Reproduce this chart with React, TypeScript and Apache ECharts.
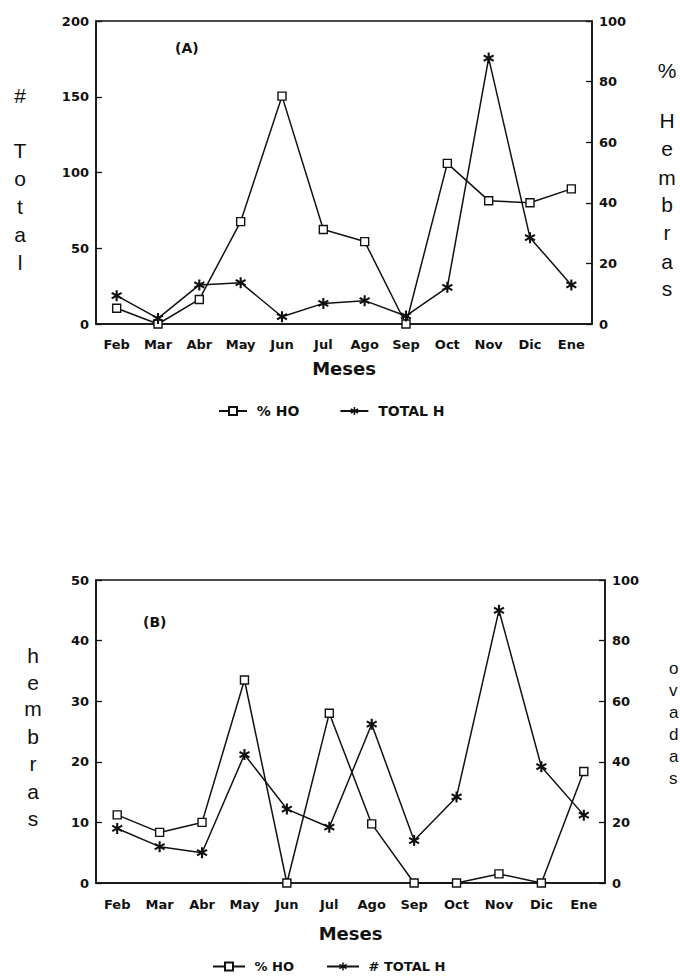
import React, { useEffect, useRef } from "react";
import * as echarts from "echarts";

const months = ["Feb", "Mar", "Abr", "May", "Jun", "Jul", "Ago", "Sep", "Oct", "Nov", "Dic", "Ene"];
// Chart A
const pctHoA = [5.2, 0, 8.1, 33.8, 75.2, 31.2, 27.2, 0, 53, 40.7, 40, 44.6];
const totalHA = [18.7, 3.7, 25.8, 27.3, 4.8, 13.6, 15.4, 5.3, 24.2, 175.5, 57, 25.8];
// Chart B
const pctHoB = [22.5, 16.7, 20, 67, 0, 56, 19.5, 0, 0, 3, 0, 36.8];
const totalHB = [9, 6, 5, 21.2, 12.2, 9.2, 26.2, 7, 14.2, 45, 19.2, 11.2];

const FONT = "'Liberation Sans', Arial, Helvetica, sans-serif";
const WIDE = "'DejaVu Sans', Verdana, sans-serif";
const INK = "#111";
const STAR =
  "path://M-1.1,-6L1.1,-6L1.1,6L-1.1,6Z" +
  "M5.746,2.047L4.646,3.953L-5.746,-2.047L-4.646,-3.953Z" +
  "M-4.646,3.953L-5.746,2.047L4.646,-3.953L5.746,-2.047Z";

function letters(chars: string[], ys: number[], x: number, align: string, size = 21) {
  return chars.map((c, i) => ({
    type: "text",
    x,
    y: ys[i],
    silent: true,
    style: {
      text: c,
      font: `${size}px ${FONT}`,
      fill: INK,
      align,
      verticalAlign: "middle",
      textAlign: align,
      textVerticalAlign: "middle",
    },
  }));
}

export default function App() {
  const ref = useRef<HTMLDivElement>(null);
  useEffect(() => {
    if (!ref.current) return;
    const chart = echarts.init(ref.current, null, { renderer: "svg" });
    const axisLabel = { color: INK, fontFamily: WIDE, fontWeight: "bold", fontSize: 13 };
    const xMain = (gridIndex: number, gap: number, margin: number) => ({
      type: "category",
      gridIndex,
      data: months,
      position: "bottom",
      boundaryGap: true,
      axisLine: { lineStyle: { color: INK, width: 1.5 } },
      axisTick: { alignWithLabel: true, length: 6, lineStyle: { color: INK, width: 1.3 } },
      axisLabel: { ...axisLabel, interval: 0, margin },
      name: "Meses",
      nameLocation: "middle",
      nameGap: gap,
      nameTextStyle: { color: INK, fontFamily: WIDE, fontWeight: "bold", fontSize: 18 },
    });
    const xInner = (gridIndex: number) => ({
      type: "category",
      gridIndex,
      data: months,
      position: "bottom",
      offset: 0,
      boundaryGap: true,
      axisLine: { show: false },
      axisTick: { inside: true, alignWithLabel: true, length: 6, lineStyle: { color: INK, width: 1.3 } },
      axisLabel: { show: false },
    });
    const yAxis = (gridIndex: number, position: string, max: number, interval: number) => ({
      type: "value",
      gridIndex,
      position,
      min: 0,
      max,
      interval,
      splitLine: { show: false },
      axisLine: { show: true, lineStyle: { color: INK, width: 1.5 } },
      axisTick: { show: true, inside: true, length: 6, lineStyle: { color: INK, width: 1.3 } },
      axisLabel: { ...axisLabel, margin: 7 },
    });
    const sq = (name: string, data: number[], xi: number, yi: number) => ({
      type: "line",
      name,
      data,
      xAxisIndex: xi,
      yAxisIndex: yi,
      symbol: "rect",
      symbolSize: 8,
      showAllSymbol: true,
      clip: false,
      lineStyle: { color: INK, width: 1.5 },
      itemStyle: { color: "#fff", borderColor: INK, borderWidth: 1.4 },
      z: 3,
    });
    const st = (name: string, data: number[], xi: number, yi: number) => ({
      type: "line",
      name,
      data,
      xAxisIndex: xi,
      yAxisIndex: yi,
      symbol: STAR,
      symbolSize: 11,
      showAllSymbol: true,
      clip: false,
      lineStyle: { color: INK, width: 1.5 },
      itemStyle: { color: INK },
      z: 4,
    });
    const legendText = { color: INK, fontFamily: WIDE, fontWeight: "bold", fontSize: 14 };

    chart.setOption({
      animation: false,
      backgroundColor: "#fff",
      grid: [
        { left: 96, top: 21, width: 496, height: 303, show: true, borderColor: INK, borderWidth: 1.5, backgroundColor: "transparent" },
        { left: 96, top: 580, width: 509, height: 303, show: true, borderColor: INK, borderWidth: 1.5, backgroundColor: "transparent" },
      ],
      xAxis: [xMain(0, 35, 14), xInner(0), xMain(1, 41, 15), xInner(1)],
      yAxis: [
        yAxis(0, "left", 200, 50),
        yAxis(0, "right", 100, 20),
        yAxis(1, "left", 50, 10),
        yAxis(1, "right", 100, 20),
      ],
      legend: [
        {
          data: ["% HO", "TOTAL H"],
          left: 213,
          top: 399,
          itemWidth: 28,
          itemHeight: 10,
          itemGap: 40,
          formatter: (n: string) => " " + n,
          textStyle: legendText,
          selectedMode: false,
        },
        {
          data: ["% HO", "# TOTAL H"],
          left: 210,
          top: 958,
          padding: 2,
          itemWidth: 32,
          itemHeight: 10,
          itemGap: 32,
          formatter: (n: string) => " " + n,
          textStyle: { ...legendText, fontSize: 13 },
          selectedMode: false,
        },
      ],
      series: [
        sq("% HO", pctHoA, 0, 1),
        st("TOTAL H", totalHA, 0, 0),
        sq("% HO", pctHoB, 2, 3),
        st("# TOTAL H", totalHB, 2, 2),
      ],
      graphic: [
        {
          type: "text",
          x: 175,
          y: 48,
          style: { text: "(A)", font: `bold 14px ${WIDE}`, fill: INK, verticalAlign: "middle", textVerticalAlign: "middle" },
        },
        {
          type: "text",
          x: 143,
          y: 622,
          style: { text: "(B)", font: `bold 14px ${WIDE}`, fill: INK, verticalAlign: "middle", textVerticalAlign: "middle" },
        },
        ...letters(["#", "T", "o", "t", "a", "l"], [95, 150, 178, 206, 234, 262], 20, "center"),
        ...letters(["%", "H", "e", "m", "b", "r", "a", "s"], [70, 120, 148, 177, 204, 232, 261, 288], 667, "center"),
        ...letters(["h", "e", "m", "b", "r", "a", "s"], [655, 682, 708, 736, 763, 791, 818], 33, "center"),
        ...letters(["o", "v", "a", "d", "a", "s"], [668, 690, 712, 734, 756, 778], 669, "left", 17),
      ],
    });
    return () => chart.dispose();
  }, []);
  return (
    <div
      ref={ref}
      style={{ position: "absolute", left: 0, top: 0, width: 680, height: 980, background: "#fff" }}
    />
  );
}
